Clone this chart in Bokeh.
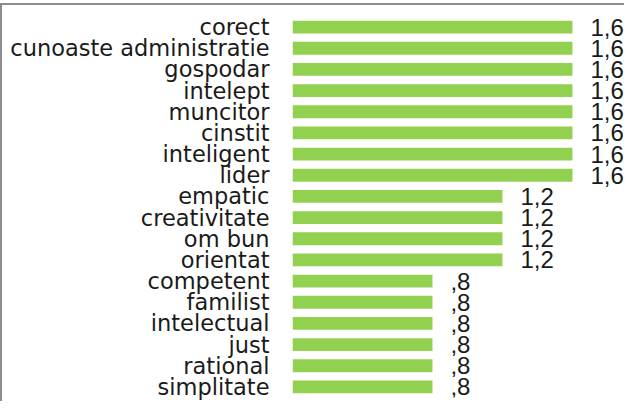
from bokeh.plotting import figure
from bokeh.models import ColumnDataSource, FactorRange, Range1d, LabelSet
from bokeh.core.properties import value
from bokeh.embed import file_html
from bokeh.resources import INLINE

categories = ["corect", "cunoaste administratie", "gospodar", "intelept", "muncitor",
              "cinstit", "inteligent", "lider", "empatic", "creativitate", "om bun",
              "orientat", "competent", "familist", "intelectual", "just", "rational",
              "simplitate"]
values = [1.6, 1.6, 1.6, 1.6, 1.6, 1.6, 1.6, 1.6, 1.2, 1.2, 1.2, 1.2,
          0.8, 0.8, 0.8, 0.8, 0.8, 0.8]


def fmt(v):
    s = f"{v:.1f}".replace(".", ",")
    if s.startswith("0"):
        s = s[1:]
    return s


labels = [fmt(v) for v in values]

FONT = "DejaVu Sans"
NUM_FONT = "Liberation Sans"
TXT = "#1a1a1a"

src = ColumnDataSource(dict(cat=categories, val=values, lab=labels))

p = figure(width=624, height=398,
           y_range=FactorRange(*reversed(categories)),
           x_range=Range1d(0, 1.909),
           output_backend="svg", toolbar_location=None,
           x_axis_location=None,
           min_border_left=290, min_border_top=11,
           min_border_bottom=6, min_border_right=0)

p.hbar(y="cat", left=0, right="val", height=0.61, source=src,
       fill_color="#92D050", line_color=None)

vals_labels = LabelSet(x="val", y="cat", text="lab", source=src, x_offset=18,
                       text_baseline="middle", text_align="left",
                       text_font=value(NUM_FONT), text_font_size=value("24px"),
                       text_color=TXT)
p.add_layout(vals_labels)

ax = p.yaxis[0]
ax.axis_line_color = None
ax.major_tick_line_color = None
ax.minor_tick_line_color = None
ax.major_tick_out = 0
ax.major_tick_in = 0
ax.major_label_standoff = 23
ax.major_label_text_font = FONT
ax.major_label_text_font_size = "22.5px"
ax.major_label_text_color = TXT

p.grid.visible = False
p.outline_line_color = None
p.styles = {"margin-top": "3px",
            "border-top": "2px solid #8c8c8c",
            "border-left": "2px solid #8c8c8c"}

open("out.html", "w").write(file_html(p, INLINE))
